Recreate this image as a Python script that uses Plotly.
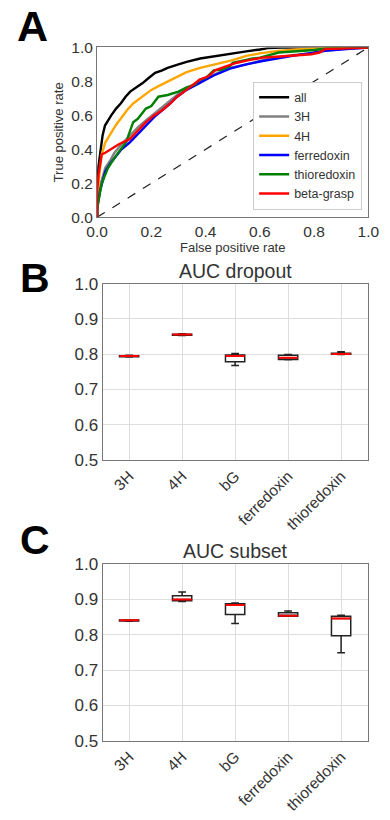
import plotly.graph_objects as go

# ---------------- Panel A: ROC curves ----------------
roc_names = ["all", "3H", "4H", "ferredoxin", "thioredoxin", "beta-grasp"]
roc_colors = ["black", "gray", "orange", "blue", "green", "red"]

all_fpr = [0, 0, 0.005, 0.012, 0.02, 0.029, 0.04, 0.052, 0.07, 0.087, 0.105, 0.122, 0.145, 0.168, 0.19, 0.214, 0.24, 0.26, 0.3, 0.33, 0.38, 0.435, 0.5, 0.55, 0.6, 0.63, 0.68, 0.72, 0.85, 1.0]
all_tpr = [0, 0.17, 0.3, 0.40, 0.48, 0.54, 0.57, 0.60, 0.64, 0.67, 0.71, 0.74, 0.765, 0.79, 0.82, 0.85, 0.865, 0.88, 0.90, 0.915, 0.935, 0.95, 0.965, 0.977, 0.988, 0.996, 0.999, 1.0, 1.0, 1.0]

h3_fpr = [0, 0, 0.01, 0.03, 0.05, 0.064, 0.09, 0.12, 0.15, 0.18, 0.21, 0.24, 0.27, 0.295, 0.33, 0.377, 0.43, 0.49, 0.55, 0.61, 0.66, 0.72, 0.78, 0.84, 0.9, 1.0]
h3_tpr = [0, 0.06, 0.18, 0.29, 0.34, 0.38, 0.43, 0.48, 0.53, 0.57, 0.61, 0.65, 0.69, 0.72, 0.76, 0.80, 0.84, 0.88, 0.90, 0.925, 0.94, 0.955, 0.965, 0.98, 0.99, 1.0]

h4_fpr = [0, 0, 0.008, 0.017, 0.03, 0.052, 0.07, 0.087, 0.11, 0.133, 0.165, 0.2, 0.23, 0.26, 0.3, 0.33, 0.38, 0.435, 0.5, 0.55, 0.6, 0.666, 0.75, 0.84, 0.92, 1.0]
h4_tpr = [0, 0.1, 0.25, 0.37, 0.44, 0.50, 0.545, 0.58, 0.63, 0.67, 0.71, 0.75, 0.775, 0.80, 0.83, 0.855, 0.88, 0.90, 0.925, 0.95, 0.965, 0.98, 0.99, 0.996, 1.0, 1.0]

fer_fpr = [0, 0, 0.01, 0.03, 0.05, 0.064, 0.09, 0.12, 0.15, 0.18, 0.21, 0.24, 0.27, 0.295, 0.33, 0.377, 0.43, 0.49, 0.55, 0.61, 0.66, 0.72, 0.78, 0.84, 0.92, 1.0]
fer_tpr = [0, 0.05, 0.15, 0.27, 0.32, 0.35, 0.40, 0.44, 0.49, 0.54, 0.59, 0.63, 0.67, 0.71, 0.75, 0.79, 0.835, 0.875, 0.90, 0.92, 0.935, 0.95, 0.965, 0.98, 0.99, 1.0]

thio_fpr = [0, 0, 0.017, 0.04, 0.064, 0.09, 0.11, 0.115, 0.133, 0.15, 0.165, 0.18, 0.2, 0.226, 0.26, 0.3, 0.33, 0.36, 0.377, 0.4, 0.43, 0.46, 0.49, 0.5, 0.574, 0.6, 0.67, 0.72, 0.8, 0.85, 1.0]
thio_tpr = [0, 0.05, 0.2, 0.29, 0.35, 0.41, 0.45, 0.48, 0.56, 0.58, 0.61, 0.64, 0.655, 0.71, 0.72, 0.74, 0.765, 0.78, 0.81, 0.82, 0.865, 0.87, 0.89, 0.91, 0.935, 0.94, 0.97, 0.975, 0.985, 0.995, 1.0]

bg_fpr = [0, 0, 0.005, 0.017, 0.03, 0.052, 0.08, 0.12, 0.15, 0.18, 0.21, 0.24, 0.27, 0.295, 0.33, 0.377, 0.41, 0.435, 0.47, 0.515, 0.56, 0.61, 0.66, 0.72, 0.79, 0.82, 0.84, 0.92, 1.0]
bg_tpr = [0, 0.15, 0.25, 0.37, 0.38, 0.40, 0.43, 0.46, 0.51, 0.56, 0.60, 0.63, 0.67, 0.71, 0.75, 0.81, 0.83, 0.865, 0.885, 0.91, 0.925, 0.94, 0.945, 0.95, 0.96, 0.97, 0.99, 0.995, 1.0]

roc_fpr = [all_fpr, h3_fpr, h4_fpr, fer_fpr, thio_fpr, bg_fpr]
roc_tpr = [all_tpr, h3_tpr, h4_tpr, fer_tpr, thio_tpr, bg_tpr]

chance_x = [0, 1]
chance_y = [0, 1]

# ---------------- Panel B / C: box plots ----------------
box_cats = ["3H", "4H", "bG", "ferredoxin", "thioredoxin"]

drop_q1 = [0.793, 0.854, 0.779, 0.785, 0.800]
drop_med = [0.795, 0.856, 0.795, 0.790, 0.801]
drop_q3 = [0.796, 0.857, 0.798, 0.797, 0.803]
drop_lo = [0.792, 0.853, 0.768, 0.784, 0.799]
drop_hi = [0.797, 0.858, 0.802, 0.799, 0.807]

sub_q1 = [0.839, 0.896, 0.857, 0.852, 0.797]
sub_med = [0.841, 0.900, 0.884, 0.854, 0.846]
sub_q3 = [0.842, 0.910, 0.888, 0.862, 0.852]
sub_lo = [0.838, 0.894, 0.832, 0.852, 0.749]
sub_hi = [0.842, 0.921, 0.890, 0.867, 0.855]

FONT = "Liberation Sans, Arial, DejaVu Sans, sans-serif"
TXT = "#333333"

fig = go.Figure()

fig.add_trace(go.Scatter(x=chance_x, y=chance_y, mode="lines",
                         line=dict(color="#222222", width=1.2, dash="dash"),
                         showlegend=False, xaxis="x", yaxis="y"))
for name, col, fx, ty in zip(roc_names, roc_colors, roc_fpr, roc_tpr):
    fig.add_trace(go.Scatter(x=fx, y=ty, mode="lines", name=name,
                             line=dict(color=col, width=2.4),
                             xaxis="x", yaxis="y"))

def add_boxes(q1, med, q3, lo, hi, xa, ya):
    fig.add_trace(go.Box(x=box_cats, q1=q1, median=med, q3=q3,
                         lowerfence=lo, upperfence=hi,
                         fillcolor="white", line=dict(color="#222222", width=1.5),
                         whiskerwidth=0.4, showlegend=False,
                         xaxis=xa, yaxis=ya, hoverinfo="skip"))
    fig.add_trace(go.Box(x=box_cats, q1=med, median=med, q3=med,
                         lowerfence=med, upperfence=med,
                         fillcolor="red", line=dict(color="red", width=2),
                         whiskerwidth=0, showlegend=False,
                         xaxis=xa, yaxis=ya, hoverinfo="skip"))

add_boxes(drop_q1, drop_med, drop_q3, drop_lo, drop_hi, "x2", "y2")
add_boxes(sub_q1, sub_med, sub_q3, sub_lo, sub_hi, "x3", "y3")

frame = dict(showline=True, linecolor="#777777", linewidth=1.2, mirror=True,
             ticks="", zeroline=False)

fig.update_layout(
    width=390, height=820,
    margin=dict(l=0, r=0, t=0, b=0),
    paper_bgcolor="white", plot_bgcolor="white",
    font=dict(family=FONT, color=TXT),
    boxmode="overlay", boxgap=0.48,
    xaxis=dict(domain=[0.234, 0.971], range=[0, 1], anchor="y",
               tickvals=[0, 0.2, 0.4, 0.6, 0.8, 1.0], tickformat=".1f",
               tickfont=dict(size=15.5, color=TXT), showgrid=False,
               title=dict(text="False positive rate", font=dict(size=13, color=TXT), standoff=2),
               **frame),
    yaxis=dict(domain=[0.740, 0.952], range=[0, 1], anchor="x",
               tickvals=[0, 0.2, 0.4, 0.6, 0.8, 1.0], tickformat=".1f",
               tickfont=dict(size=15.5, color=TXT), showgrid=False,
               title=dict(text="True positive rate", font=dict(size=13, color=TXT), standoff=4),
               **frame),
    xaxis2=dict(domain=[0.249, 0.969], anchor="y2", type="category",
                tickangle=-45, tickfont=dict(size=15.5, color=TXT),
                showgrid=True, gridcolor="#dddddd", **frame),
    yaxis2=dict(domain=[0.437, 0.657], range=[0.5, 1.0], anchor="x2",
                tickvals=[0.5, 0.6, 0.7, 0.8, 0.9, 1.0], tickformat=".1f",
                tickfont=dict(size=17, color=TXT),
                showgrid=True, gridcolor="#dddddd", **frame),
    xaxis3=dict(domain=[0.249, 0.969], anchor="y3", type="category",
                tickangle=-45, tickfont=dict(size=15.5, color=TXT),
                showgrid=True, gridcolor="#dddddd", **frame),
    yaxis3=dict(domain=[0.0866, 0.307], range=[0.5, 1.0], anchor="x3",
                tickvals=[0.5, 0.6, 0.7, 0.8, 0.9, 1.0], tickformat=".1f",
                tickfont=dict(size=17, color=TXT),
                showgrid=True, gridcolor="#dddddd", **frame),
    legend=dict(x=0.658, y=0.7495, xanchor="left", yanchor="bottom",
                xref="paper", yref="paper",
                bgcolor="white", bordercolor="#cccccc", borderwidth=1,
                font=dict(size=12.5, color=TXT), tracegroupgap=0,
                itemwidth=30),
    annotations=[
        dict(text="<b>A</b>", x=0.012, y=0.979, xref="paper", yref="paper",
             xanchor="left", yanchor="middle", showarrow=False,
             font=dict(size=43, color="black", family=FONT)),
        dict(text="<b>B</b>", x=0.018, y=0.6646, xref="paper", yref="paper",
             xanchor="left", yanchor="middle", showarrow=False,
             font=dict(size=41, color="black", family=FONT)),
        dict(text="<b>C</b>", x=0.018, y=0.337, xref="paper", yref="paper",
             xanchor="left", yanchor="middle", showarrow=False,
             font=dict(size=41, color="black", family=FONT)),
        dict(text="AUC dropout", x=0.609, y=0.657, xref="paper", yref="paper",
             xanchor="center", yanchor="bottom", showarrow=False,
             font=dict(size=19.5, color=TXT, family=FONT)),
        dict(text="AUC subset", x=0.609, y=0.307, xref="paper", yref="paper",
             xanchor="center", yanchor="bottom", showarrow=False,
             font=dict(size=19.5, color=TXT, family=FONT)),
    ],
)

fig.write_html("out.html", config={"displayModeBar": False},
               post_script="document.body.style.margin='0';")
